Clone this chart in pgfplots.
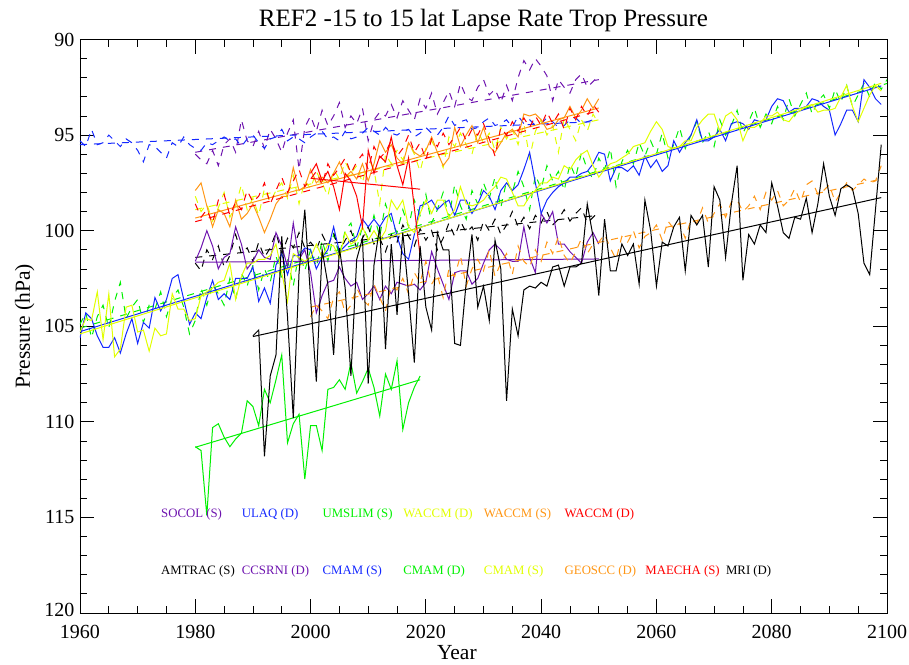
\documentclass[border=0pt]{standalone}
\usepackage{fontspec}
\setmainfont{Liberation Serif}
\newfontfamily\tickfont{Liberation Serif}
\usepackage{pgfplots}
\pgfplotsset{compat=1.18}
\definecolor{cpurple}{RGB}{110,20,175}
\definecolor{cblue}{RGB}{20,40,255}
\definecolor{cgreen}{RGB}{0,240,0}
\definecolor{cyellow}{RGB}{225,255,0}
\definecolor{corange}{RGB}{255,150,20}
\definecolor{cred}{RGB}{255,0,0}
\tikzset{ds/.style={dash pattern=on 7pt off 7pt}}
\newcommand{\ser}[3]{\addplot[#1] table[row sep=\\,header=false,x expr=\coordindex+#2,y index=0]{#3};}
\begin{document}
\begin{tikzpicture}
\useasboundingbox (-80pt,-51pt) rectangle (829pt,613pt);
\begin{axis}[
  width=807pt, height=573.5pt, scale only axis,
  xmin=1960, xmax=2100, ymin=90, ymax=120, y dir=reverse,
  xtick={1960,1980,...,2100}, ytick={90,95,...,120},
  xticklabels={1960,1980,2000,2020,2040,2060,2080,2100},
  yticklabels={\raisebox{-6pt}{90},95,100,105,110,115,\raisebox{6pt}{120}},
  minor x tick num=3, minor y tick num=4,
  major tick length=14pt, minor tick length=7pt,
  tick style={black, line width=0.8pt},
  axis line style={line width=0.9pt},
  tick label style={font=\tickfont\fontsize{20}{24}\selectfont},
  x tick label style={yshift=-9pt},
  y tick label style={xshift=-2pt},
  every axis title shift=0pt,
  title={REF2 -15 to 15 lat Lapse Rate Trop Pressure},
  title style={font=\fontsize{25}{30}\selectfont, at={(axis description cs:0.5,1.0227)}, anchor=base},
  xlabel={Year},
  xlabel style={font=\fontsize{21.5}{26}\selectfont, at={(axis description cs:0.467,-0.0802)}, anchor=base},
  ylabel={Pressure (hPa)},
  ylabel style={font=\fontsize{21.5}{26}\selectfont, at={(axis description cs:-0.062,0.5)}, anchor=base},
  every axis plot/.append style={line width=1pt, no markers},
]
% SOCOL (S)
\ser{cpurple,ds}{1980}{96.0\\96.3\\96.5\\95.8\\96.6\\95.5\\95.2\\95.9\\94.2\\95.3\\95.6\\94.8\\95.7\\94.7\\95.2\\95.9\\94.9\\94.2\\96.8\\94.6\\94.0\\94.8\\93.7\\94.5\\94.0\\93.3\\94.6\\94.0\\94.4\\93.6\\95.3\\94.2\\93.8\\94.0\\93.4\\94.1\\93.2\\93.7\\94.2\\93.1\\93.6\\92.8\\93.9\\93.3\\92.7\\93.5\\92.3\\93.0\\93.2\\92.5\\92.1\\92.9\\92.6\\93.3\\92.4\\93.2\\92.0\\91.1\\91.6\\91.0\\91.4\\91.9\\93.2\\92.1\\92.5\\92.8\\92.1\\91.8\\92.5\\92.2\\91.9\\}
\addplot[cpurple,ds] coordinates {(1980,95.9) (2050,92.1)};
% ULAQ (D)
\ser{cblue,ds}{1960}{95.3\\95.6\\94.7\\95.5\\95.4\\95.0\\95.3\\95.6\\95.2\\95.4\\95.8\\96.4\\95.5\\95.6\\95.9\\96.2\\95.4\\95.6\\95.1\\95.5\\95.7\\95.8\\95.4\\95.5\\95.3\\95.1\\95.3\\95.2\\95.6\\95.2\\95.0\\95.4\\95.7\\95.2\\95.1\\94.7\\95.3\\95.1\\95.2\\95.4\\95.1\\94.9\\94.8\\95.2\\95.1\\95.3\\94.8\\95.2\\95.1\\94.9\\94.6\\94.8\\95.0\\94.6\\94.9\\95.0\\94.8\\94.7\\95.1\\94.9\\94.6\\94.9\\95.0\\94.6\\94.0\\94.5\\94.3\\94.2\\94.7\\94.6\\94.3\\94.1\\94.5\\94.4\\94.2\\94.6\\94.0\\94.4\\94.2\\94.5\\94.4\\94.1\\94.3\\94.6\\94.5\\94.2\\94.1\\94.4\\94.3\\94.2\\}
\addplot[cblue,ds] coordinates {(1960,95.5) (2049,94.3)};
% UMSLIM (S)
\ser{cgreen,ds}{1960}{104.9\\104.3\\105.6\\104.5\\103.9\\105.1\\103.7\\102.7\\104.6\\104.0\\103.6\\104.8\\103.9\\104.1\\103.2\\104.5\\103.5\\103.1\\104.0\\105.4\\104.7\\103.0\\103.9\\102.8\\103.3\\103.9\\102.5\\103.6\\102.2\\102.9\\101.8\\103.1\\102.0\\102.7\\101.3\\102.5\\101.5\\102.9\\101.1\\102.1\\101.0\\101.9\\100.5\\101.6\\100.2\\101.3\\100.0\\99.6\\100.9\\99.8\\100.4\\99.2\\100.3\\98.6\\99.5\\100.1\\98.9\\99.8\\98.4\\99.2\\98.1\\99.6\\98.9\\98.0\\99.3\\97.6\\98.7\\99.4\\97.9\\98.6\\97.5\\98.3\\97.2\\98.8\\97.4\\98.0\\96.9\\97.7\\98.9\\97.1\\97.8\\96.6\\97.4\\96.9\\97.9\\96.5\\97.2\\95.9\\96.8\\97.3\\96.2\\96.8\\95.7\\97.7\\96.4\\95.8\\96.5\\95.4\\96.1\\95.3\\96.0\\94.9\\96.2\\95.5\\94.6\\95.7\\95.0\\94.3\\95.4\\94.8\\95.6\\94.2\\95.0\\94.5\\93.7\\94.9\\94.3\\93.6\\94.6\\93.9\\94.4\\93.5\\94.2\\93.1\\94.0\\93.4\\92.8\\93.9\\93.2\\92.9\\93.6\\92.6\\93.3\\92.4\\93.5\\92.9\\92.3\\93.0\\92.2\\92.6\\92.1\\}
\addplot[cgreen,ds] coordinates {(1960,105.1) (2100,92.3)};
% WACCM (D) yellow
\ser{cyellow,ds}{1980}{98.2\\99.0\\98.6\\99.5\\98.8\\98.0\\99.3\\98.7\\97.6\\98.9\\98.3\\99.2\\97.8\\98.5\\97.9\\97.5\\98.3\\97.1\\98.6\\97.4\\97.8\\96.9\\97.5\\98.2\\96.8\\97.3\\96.4\\97.0\\96.6\\97.5\\96.2\\96.8\\98.6\\96.0\\96.5\\95.8\\96.3\\95.4\\96.0\\96.9\\95.7\\95.3\\95.9\\96.7\\95.1\\95.6\\94.9\\95.5\\96.0\\94.8\\95.4\\94.9\\95.8\\94.6\\95.2\\94.7\\95.5\\94.4\\96.2\\94.8\\94.2\\95.0\\94.5\\95.9\\94.1\\94.7\\95.3\\94.2\\94.8\\93.9\\94.4\\}
\addplot[cyellow,ds] coordinates {(1980,98.9) (2050,94.2)};
% WACCM (S) orange
\ser{corange}{1980}{97.9\\97.5\\98.7\\99.8\\98.9\\99.1\\99.8\\98.4\\99.4\\99.1\\98.6\\99.3\\100.1\\99.4\\98.6\\98.2\\98.2\\96.7\\97.9\\97.7\\96.8\\97.5\\97.2\\97.5\\97.0\\96.4\\97.2\\96.9\\97.3\\96.5\\97.4\\96.5\\95.3\\95.9\\95.5\\96.2\\96.5\\95.4\\95.9\\96.1\\95.8\\95.1\\95.9\\96.6\\96.2\\94.6\\95.6\\95.0\\94.5\\95.4\\94.6\\95.6\\95.9\\95.4\\94.9\\94.7\\95.1\\93.9\\94.0\\93.9\\94.2\\94.7\\94.6\\94.2\\94.1\\93.5\\94.1\\93.7\\93.1\\93.6\\93.1\\}
\addplot[corange] coordinates {(1980,99.34) (2050,93.58)};
% WACCM (D) red
\ser{cred,ds}{1980}{98.6\\99.3\\98.9\\99.6\\98.4\\98.1\\99.2\\98.5\\98.9\\97.9\\98.5\\98.2\\97.5\\98.6\\97.9\\97.2\\98.0\\97.4\\96.8\\97.7\\97.3\\96.9\\97.6\\96.5\\97.1\\96.7\\96.2\\97.0\\96.4\\96.0\\96.8\\95.6\\96.2\\95.9\\95.3\\96.1\\95.7\\95.0\\95.9\\95.4\\96.3\\95.2\\95.6\\94.9\\95.5\\95.1\\94.6\\95.3\\94.7\\95.0\\94.4\\95.2\\96.1\\94.6\\95.0\\94.3\\94.8\\94.1\\94.6\\94.0\\94.5\\93.8\\94.4\\93.9\\94.7\\93.6\\94.2\\93.5\\94.0\\93.4\\93.8\\}
\addplot[cred,ds] coordinates {(1980,99.53) (2050,93.72)};
% AMTRAC (S)
\ser{black,ds}{1980}{101.7\\102.1\\101.0\\101.5\\100.8\\101.9\\101.3\\100.2\\101.2\\100.9\\101.6\\100.6\\101.4\\100.9\\100.1\\101.2\\100.4\\100.9\\100.1\\100.9\\100.6\\101.0\\100.2\\100.8\\100.1\\101.1\\100.5\\100.0\\100.9\\100.4\\99.8\\100.7\\100.4\\101.1\\100.2\\100.6\\99.7\\100.3\\100.8\\99.9\\100.5\\100.0\\101.0\\100.4\\99.6\\100.3\\99.5\\100.1\\99.8\\100.5\\99.5\\100.0\\99.4\\100.2\\99.7\\99.0\\99.8\\99.3\\99.9\\99.2\\99.6\\99.0\\99.7\\99.4\\98.9\\99.5\\99.1\\98.8\\99.6\\99.3\\99.0\\}
\addplot[black,ds] coordinates {(1980,101.4) (2050,99.2)};
% CCSRNI (D)
\ser{cpurple}{1980}{101.6\\100.9\\100.0\\100.8\\102.0\\101.4\\101.2\\99.8\\100.7\\102.0\\101.6\\101.0\\101.4\\101.5\\100.1\\100.8\\101.9\\99.6\\101.5\\101.0\\102.2\\104.3\\103.4\\102.7\\102.6\\101.9\\102.5\\102.9\\102.7\\103.6\\103.3\\102.9\\103.6\\102.9\\103.3\\102.7\\102.8\\102.9\\102.8\\103.1\\102.7\\101.1\\102.0\\102.8\\103.6\\102.2\\102.1\\102.1\\102.8\\102.5\\101.7\\101.0\\100.7\\101.0\\101.5\\101.6\\101.6\\99.8\\101.4\\102.2\\99.1\\99.6\\99.0\\100.7\\100.7\\101.1\\101.4\\101.7\\100.6\\100.1\\100.7\\}
\addplot[cpurple] coordinates {(1980,101.65) (2050,101.48)};
% CMAM (S) blue
\ser{cblue}{1960}{105.6\\104.3\\104.6\\105.5\\106.1\\106.1\\105.6\\106.4\\105.4\\104.6\\105.9\\104.8\\105.1\\103.5\\104.2\\103.6\\102.5\\102.3\\103.6\\104.9\\104.3\\104.6\\103.5\\102.6\\103.6\\103.3\\103.6\\102.5\\102.5\\102.5\\101.9\\103.7\\103.0\\103.8\\101.8\\101.2\\102.3\\101.3\\101.3\\100.9\\101.0\\102.0\\101.4\\101.0\\99.8\\101.1\\100.8\\100.5\\100.3\\99.4\\99.8\\99.4\\99.8\\99.3\\99.1\\100.3\\101.2\\101.5\\100.2\\98.7\\98.6\\98.4\\98.9\\98.6\\98.4\\99.2\\98.4\\98.4\\99.1\\98.6\\97.9\\98.2\\98.9\\97.9\\97.5\\97.9\\97.6\\96.8\\95.9\\97.5\\99.1\\98.4\\98.0\\97.7\\97.5\\97.2\\97.2\\97.0\\96.9\\96.5\\95.9\\96.0\\97.4\\96.7\\96.7\\96.9\\96.6\\97.1\\96.1\\96.7\\96.3\\96.9\\96.6\\95.3\\95.9\\95.4\\95.0\\94.2\\95.3\\95.3\\95.1\\94.7\\95.3\\94.4\\94.3\\94.4\\94.7\\94.2\\94.3\\94.2\\93.5\\93.1\\93.2\\93.8\\93.6\\93.6\\93.5\\93.1\\93.2\\93.5\\93.7\\95.0\\94.4\\93.7\\93.7\\94.3\\92.1\\92.5\\93.1\\93.4\\}
\addplot[cblue] coordinates {(1960,105.28) (2099,92.43)};
% CMAM (D) green
\ser{cgreen}{1980}{111.3\\111.5\\114.9\\110.3\\110.1\\110.8\\111.3\\110.9\\110.6\\108.9\\109.2\\110.2\\108.3\\109.0\\107.8\\106.5\\111.1\\110.1\\109.6\\113.0\\110.2\\110.2\\111.5\\108.3\\108.2\\107.8\\108.3\\106.9\\108.5\\107.9\\107.2\\108.2\\109.7\\107.5\\108.3\\106.8\\110.4\\109.0\\108.2\\107.6\\}
\addplot[cgreen] coordinates {(1980,111.33) (2019,107.8)};
% CMAM (S) yellow
\ser{cyellow}{1960}{105.3\\104.6\\104.7\\103.2\\105.7\\103.3\\106.6\\106.2\\104.0\\103.9\\105.3\\105.2\\106.3\\105.1\\105.5\\105.4\\103.3\\104.1\\104.1\\104.7\\104.6\\103.4\\103.2\\103.0\\102.7\\102.6\\101.7\\103.6\\102.4\\101.7\\101.7\\101.5\\101.5\\101.3\\100.7\\102.2\\103.7\\101.2\\101.4\\101.6\\101.4\\100.7\\101.4\\100.7\\100.8\\101.4\\100.1\\100.7\\100.5\\99.8\\100.5\\100.0\\100.5\\100.0\\98.4\\98.9\\98.4\\99.8\\100.1\\99.1\\98.4\\99.1\\98.4\\98.4\\99.3\\98.9\\97.7\\98.6\\98.7\\98.6\\98.4\\98.0\\97.7\\97.2\\97.3\\98.0\\98.7\\98.7\\98.2\\97.9\\97.5\\97.5\\97.2\\97.3\\96.6\\96.8\\96.3\\96.0\\95.8\\96.6\\97.2\\96.8\\96.5\\96.4\\96.2\\96.0\\95.6\\95.5\\95.4\\94.8\\94.3\\94.7\\95.6\\95.7\\95.6\\95.3\\95.3\\94.6\\94.2\\93.9\\93.9\\94.8\\94.0\\93.8\\94.2\\95.3\\94.6\\94.6\\94.4\\94.0\\94.0\\93.8\\94.2\\94.3\\93.9\\93.7\\93.5\\93.4\\93.8\\93.7\\93.7\\93.6\\93.0\\92.4\\93.5\\94.3\\93.6\\92.9\\92.4\\92.7\\}
\addplot[cyellow] coordinates {(1960,105.4) (2099,92.29)};
% GEOSCC (D)
\ser{corange,ds}{2000}{104.5\\103.9\\104.2\\104.6\\103.5\\103.2\\104.3\\103.9\\103.0\\103.6\\103.9\\102.8\\103.5\\104.2\\102.9\\103.1\\102.5\\103.3\\102.2\\102.7\\101.6\\102.8\\102.3\\103.5\\102.0\\102.4\\101.3\\102.9\\102.0\\101.5\\102.1\\101.0\\102.4\\101.7\\101.2\\102.3\\100.8\\101.6\\101.9\\101.0\\101.6\\100.6\\101.2\\100.3\\101.3\\101.7\\101.1\\100.4\\101.2\\100.7\\100.6\\100.2\\100.9\\101.5\\100.3\\100.6\\100.0\\100.9\\100.3\\100.1\\99.7\\100.5\\99.5\\99.9\\99.6\\100.4\\99.4\\99.6\\98.8\\99.6\\99.1\\98.6\\99.3\\98.5\\98.4\\99.0\\98.7\\98.2\\98.9\\98.0\\98.4\\97.9\\98.7\\98.4\\97.8\\98.5\\97.6\\97.4\\98.1\\97.9\\97.6\\98.5\\98.0\\97.5\\97.9\\97.6\\97.3\\97.5\\97.4\\96.6\\}
\addplot[corange,ds] coordinates {(2000,104.0) (2099,97.3)};
% MAECHA (S)
\ser{cred}{2000}{97.0\\96.5\\97.4\\96.9\\97.7\\98.9\\97.0\\97.4\\98.2\\99.8\\95.8\\97.0\\96.1\\96.4\\95.1\\96.6\\97.6\\96.2\\98.8\\101.3\\}
\addplot[cred] coordinates {(2000,97.26) (2019,97.83)};
% MRI (D)
\ser{black}{1990}{105.5\\105.2\\111.8\\107.6\\106.5\\100.3\\104.5\\109.8\\102.2\\98.9\\103.5\\107.9\\101.0\\102.8\\106.5\\100.9\\103.0\\107.6\\101.5\\100.4\\108.0\\101.8\\99.8\\106.2\\100.7\\104.4\\100.1\\103.3\\106.9\\100.8\\104.0\\105.2\\100.1\\101.0\\101.0\\105.9\\106.0\\102.7\\100.2\\104.0\\102.9\\104.7\\100.5\\102.0\\108.9\\104.1\\105.5\\103.1\\102.9\\103.0\\102.7\\102.9\\101.9\\101.8\\102.9\\101.9\\101.9\\101.7\\98.6\\100.3\\103.4\\99.4\\102.1\\102.1\\100.7\\101.3\\100.7\\102.8\\98.4\\100.0\\102.9\\100.6\\100.8\\99.8\\99.3\\102.1\\99.2\\99.7\\99.2\\101.9\\97.7\\98.4\\101.4\\98.6\\96.6\\102.6\\100.2\\100.7\\99.7\\100.1\\97.5\\98.7\\100.1\\100.4\\99.3\\99.4\\98.3\\100.1\\98.6\\96.5\\98.2\\99.2\\97.8\\97.6\\97.8\\99.1\\101.7\\102.3\\98.9\\95.5\\}
\addplot[black] coordinates {(1990,105.54) (2099,98.27)};
% legend texts
\begin{scope}[every node/.style={anchor=west, inner sep=0pt, font=\fontsize{12.8}{15}\selectfont}]
\node[text=cpurple] at (axis cs:1974.05,114.83) {SOCOL (S)};
\node[text=cblue] at (axis cs:1988.05,114.83) {ULAQ (D)};
\node[text=cgreen] at (axis cs:2002.05,114.83) {UMSLIM (S)};
\node[text=cyellow] at (axis cs:2016.05,114.83) {WACCM (D)};
\node[text=corange] at (axis cs:2030.05,114.83) {WACCM (S)};
\node[text=cred] at (axis cs:2044.05,114.83) {WACCM (D)};
\node[text=black] at (axis cs:1974.05,117.8) {AMTRAC (S)};
\node[text=cpurple] at (axis cs:1988.05,117.8) {CCSRNI (D)};
\node[text=cblue] at (axis cs:2002.05,117.8) {CMAM (S)};
\node[text=cgreen] at (axis cs:2016.05,117.8) {CMAM (D)};
\node[text=cyellow] at (axis cs:2030.05,117.8) {CMAM (S)};
\node[text=corange] at (axis cs:2044.05,117.8) {GEOSCC (D)};
\node[text=cred] at (axis cs:2058.05,117.8) {MAECHA (S)};
\node[text=black] at (axis cs:2072.05,117.8) {MRI (D)};
\end{scope}
\end{axis}
\end{tikzpicture}
\end{document}
